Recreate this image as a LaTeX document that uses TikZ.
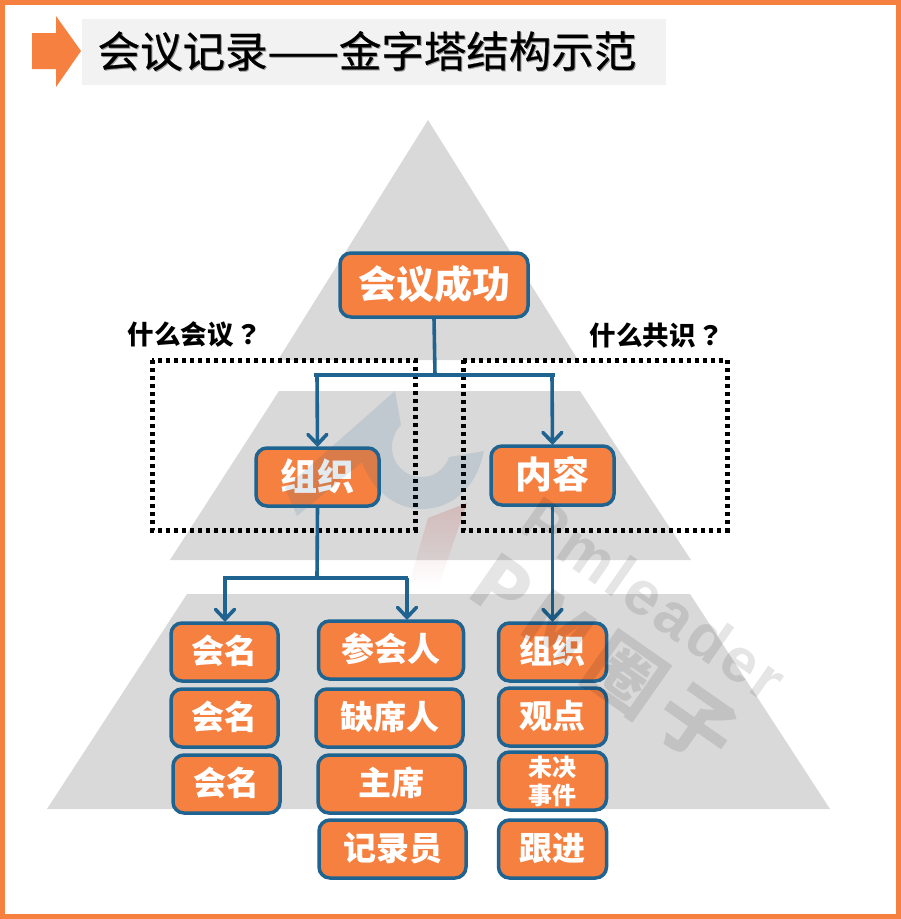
\documentclass[tikz,border=0pt]{standalone}
\usepackage{fontspec}
\setmainfont{Noto Sans CJK SC}
\newfontfamily\latinwm[LetterSpace=6]{Liberation Sans}
\newfontfamily\titlefont[FakeBold=0.5]{Noto Sans CJK SC}
\newfontfamily\tcfont{Noto Sans CJK TC}
\newfontfamily\wmfont[LetterSpace=14]{Noto Sans CJK SC}
\usetikzlibrary{arrows.meta,fadings}
\definecolor{orangefill}{HTML}{F58040}
\definecolor{bluedge}{HTML}{1F6391}
\definecolor{tier}{HTML}{D9D9D9}
\newcommand{\fsz}[1]{\fontsize{#1}{#1}\selectfont}
\newcommand{\up}[1]{\raisebox{5.5pt}{#1}}
\tikzset{
  box/.style={draw=bluedge,fill=orangefill,line width=3.5pt,rounded corners=11pt,text=white,font=\fsz{33}\bfseries,inner sep=0pt,outer sep=1pt,align=center},
  tierfill/.style={fill=tier,draw=none},
  dotbox/.style={draw=black,line width=5pt,dash pattern=on 4pt off 4pt},
  link/.style={draw=bluedge,line width=3.6pt},
  arr/.style={link,-{Straight Barb[length=10pt,width=19pt,line cap=round,line width=3.6pt]}},
  qlabel/.style={font=\fsz{26.5}\bfseries,text=black,inner sep=0pt},
  wm/.style={text=black,text opacity=0.1,inner sep=0pt,rotate=-35}
}
\begin{document}
\begin{tikzpicture}[x=1pt,y=-1pt]
\useasboundingbox (0,0) rectangle (901,919);
\fill[white] (0,0) rectangle (901,919);
\draw[draw=orangefill,line width=5pt] (2.5,2.5) rectangle (898.5,916.5);
% title
\fill[orangefill] (32,33) -- (56,33) -- (56,16) -- (81,51) -- (56,87) -- (56,69) -- (32,69) -- cycle;
\fill[black!5] (82,19) rectangle (666,85);
\node[font=\titlefont\fsz{42.5},text=black!40,inner sep=0pt,anchor=center] at (368,52) {会议记录——金字塔结构示范};
\node[font=\titlefont\fsz{42.5},text=black,inner sep=0pt,anchor=center] (title) at (367,51) {会议记录——金字塔结构示范};
% pyramid tiers
\fill[tierfill] (428,120) -- (578,360) -- (278,360) -- cycle;
\fill[tierfill] (279,391) -- (580,391) -- (691,560) -- (170,560) -- cycle;
\fill[tierfill] (187,594) -- (690,594) -- (830,809) -- (47,809) -- cycle;
% dotted frames
\draw[dotbox] (152,360) rectangle (415,530);
\draw[dotbox] (463,360) rectangle (727,530);
% nodes
\node[box,font=\fsz{38}\bfseries,minimum width=188pt,minimum height=64pt] (main) at (434,285) {\up{会议成功}};
\node[box,font=\fsz{37}\bfseries,minimum width=123pt,minimum height=58pt] (org) at (317.5,477) {\up{组织}};
\node[box,font=\fsz{37}\bfseries,minimum width=123pt,minimum height=59pt] (content) at (552.5,475.5) {\up{内容}};
\node[box,minimum width=107pt,minimum height=58pt] (n1) at (224.5,652) {\up{会名}};
\node[box,minimum width=107pt,minimum height=58pt] (n2) at (224.5,718) {\up{会名}};
\node[box,minimum width=107pt,minimum height=58pt] (n3) at (226.5,784) {\up{会名}};
\node[box,minimum width=145pt,minimum height=58pt] (a1) at (391,650) {\up{参会人}};
\node[box,minimum width=147pt,minimum height=58pt] (a2) at (389.5,718) {\up{缺席人}};
\node[box,minimum width=147pt,minimum height=58pt] (a3) at (391.5,784) {\up{主席}};
\node[box,minimum width=147pt,minimum height=58pt] (a4) at (392.5,849) {\up{记录员}};
\node[box,minimum width=108pt,minimum height=58pt] (c1) at (552.5,652) {\up{组织}};
\node[box,minimum width=108pt,minimum height=58pt] (c2) at (552.5,717) {\up{观点}};
\node[box,minimum width=108pt,minimum height=58pt,font=\fontsize{24}{28}\selectfont\bfseries] (c3) at (552.5,781) {未决\\事件};
\node[box,minimum width=108pt,minimum height=58pt] (c4) at (552.5,849) {\up{跟进}};
% labels
\node[qlabel] (q1) at (195,335) {什么会议\hspace{2pt}{\tcfont？}};
\node[qlabel] (q2) at (657,335) {什么共识\hspace{2pt}{\tcfont？}};
% connectors
\coordinate (j1) at (435,375);
\coordinate (b1l) at (314,375);
\coordinate (b1r) at (555,375);
\coordinate (j2) at (317,578);
\coordinate (b2l) at (223,578);
\coordinate (b2r) at (408,578);
\coordinate (d1) at (317,375);
\coordinate (d2) at (552,375);
\coordinate (d3) at (225,578);
\coordinate (d4) at (407,578);
\draw[link] (main.south) -- (j1);
\draw[link] (b1l) -- (b1r);
\draw[arr] (d1) -- (org.north);
\draw[arr] (d2) -- (content.north);
\draw[link] (org.south) -- (j2);
\draw[link] (b2l) -- (b2r);
\draw[arr] (d3) -- (n1.north -| d3);
\draw[arr] (d4) -- (a1.north -| d4);
\draw[arr] (content.south) -- (c1.north);
% logo and watermark on top
\fill[bluedge,opacity=0.13] (395,391) -- (401,425) .. controls (396,430) and (392,438) .. (392,447) .. controls (392,464) and (405,477) .. (422,477) .. controls (434,477) and (445,469) .. (449,457) -- (484,451) .. controls (476,490) and (450,509) .. (422,509) .. controls (395,509) and (372,490) .. (362,462) -- (297,516) -- (285,488) -- (345,435) -- cycle;
\fill[red!70!black,opacity=0.14,path fading=south] (467,503) -- (428,518) -- (408,588) -- (438,588) -- cycle;
\node[wm,font=\latinwm\bfseries\fsz{62}] (wm1) at (654,599) {Pmleader};
\node[wm,font=\wmfont\bfseries\fsz{76}] (wm2) at (604,660) {PM圈子};
\end{tikzpicture}
\end{document}
